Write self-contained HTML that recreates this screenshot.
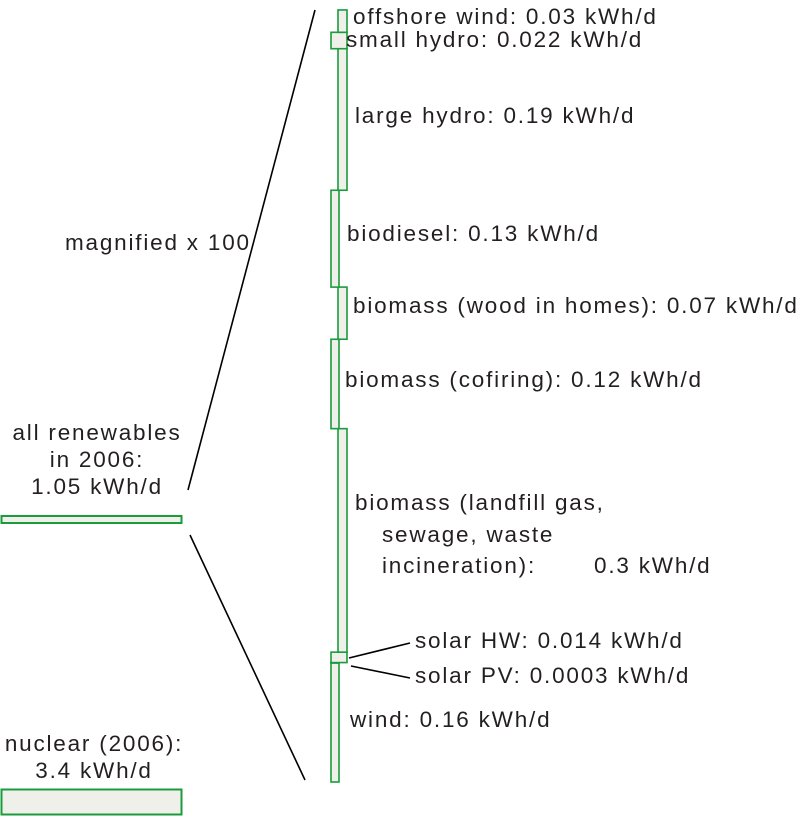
<!DOCTYPE html>
<html><head><meta charset="utf-8"><style>
html,body{margin:0;padding:0;background:#fff;}
svg{display:block;font-family:"Liberation Sans",Arial,sans-serif;}
text{font-size:22.5px;letter-spacing:1.8px;fill:#231f20;}
</style></head><body>
<svg id="chart" width="800" height="817" viewBox="0 0 800 817">
<line x1="188" y1="490" x2="315" y2="10" stroke="#000" stroke-width="1.6"/>
<line x1="190" y1="535" x2="305" y2="780" stroke="#000" stroke-width="1.6"/>
<rect x="1.5" y="516" width="180" height="7" fill="#f0f0eb" stroke="#1a9b3c" stroke-width="2"/>
<rect x="1.5" y="789.5" width="180" height="25" fill="#f0f0eb" stroke="#1a9b3c" stroke-width="2"/>
<text x="97" y="440" text-anchor="middle">all renewables</text>
<text x="97" y="467" text-anchor="middle">in 2006:</text>
<text x="97" y="494" text-anchor="middle">1.05 kWh/d</text>
<text x="94" y="751" text-anchor="middle">nuclear (2006):</text>
<text x="94" y="778" text-anchor="middle">3.4 kWh/d</text>
<text x="65" y="250">magnified x 100</text>
<line x1="349" y1="658" x2="410" y2="643" stroke="#000" stroke-width="1.6"/>
<line x1="351" y1="666" x2="410" y2="678" stroke="#000" stroke-width="1.6"/>
<g id="segs"></g>
<text x="353" y="24">offshore wind: 0.03 kWh/d</text>
<text x="346" y="47">small hydro: 0.022 kWh/d</text>
<text x="355" y="123">large hydro: 0.19 kWh/d</text>
<text x="347" y="241">biodiesel: 0.13 kWh/d</text>
<text x="353" y="313">biomass (wood in homes): 0.07 kWh/d</text>
<text x="345" y="387">biomass (cofiring): 0.12 kWh/d</text>
<text x="355" y="510">biomass (landfill gas,</text>
<text x="382" y="542">sewage, waste</text>
<text x="382" y="573">incineration):</text>
<text x="594" y="573">0.3 kWh/d</text>
<text x="415" y="648">solar HW: 0.014 kWh/d</text>
<text x="415" y="683">solar PV: 0.0003 kWh/d</text>
<text x="350" y="727">wind: 0.16 kWh/d</text>
</svg>
<script>
// stacked from bottom to top
const categories = ["wind","solar-pv","solar-hw","biomass-landfill","biomass-cofiring","biomass-wood","biodiesel","large-hydro","small-hydro","offshore-wind"];
const values = [0.16, 0.0003, 0.014, 0.3, 0.12, 0.07, 0.13, 0.19, 0.022, 0.03];
const columns = ["L","L","W","R","L","R","L","R","W","R"];
const base = 782, pxPerUnit = 745;
function yScale(v){ return base - v*pxPerUnit; }
const colX = {L:[331,8], R:[338,9], W:[331,16]};
const g = document.getElementById('segs');
let cum = 0;
for (let i = 0; i < values.length; i++) {
  const y0 = yScale(cum), y1 = yScale(cum + values[i]);
  cum += values[i];
  const r = document.createElementNS('http://www.w3.org/2000/svg','rect');
  const c = colX[columns[i]];
  r.setAttribute('x', c[0]); r.setAttribute('width', c[1]);
  r.setAttribute('y', y1); r.setAttribute('height', Math.max(y0 - y1, 0.5));
  r.setAttribute('fill', '#f0f0eb'); r.setAttribute('stroke', '#1a9b3c'); r.setAttribute('stroke-width', '1.6');
  
  
  g.appendChild(r);
}
</script>
</body></html>
